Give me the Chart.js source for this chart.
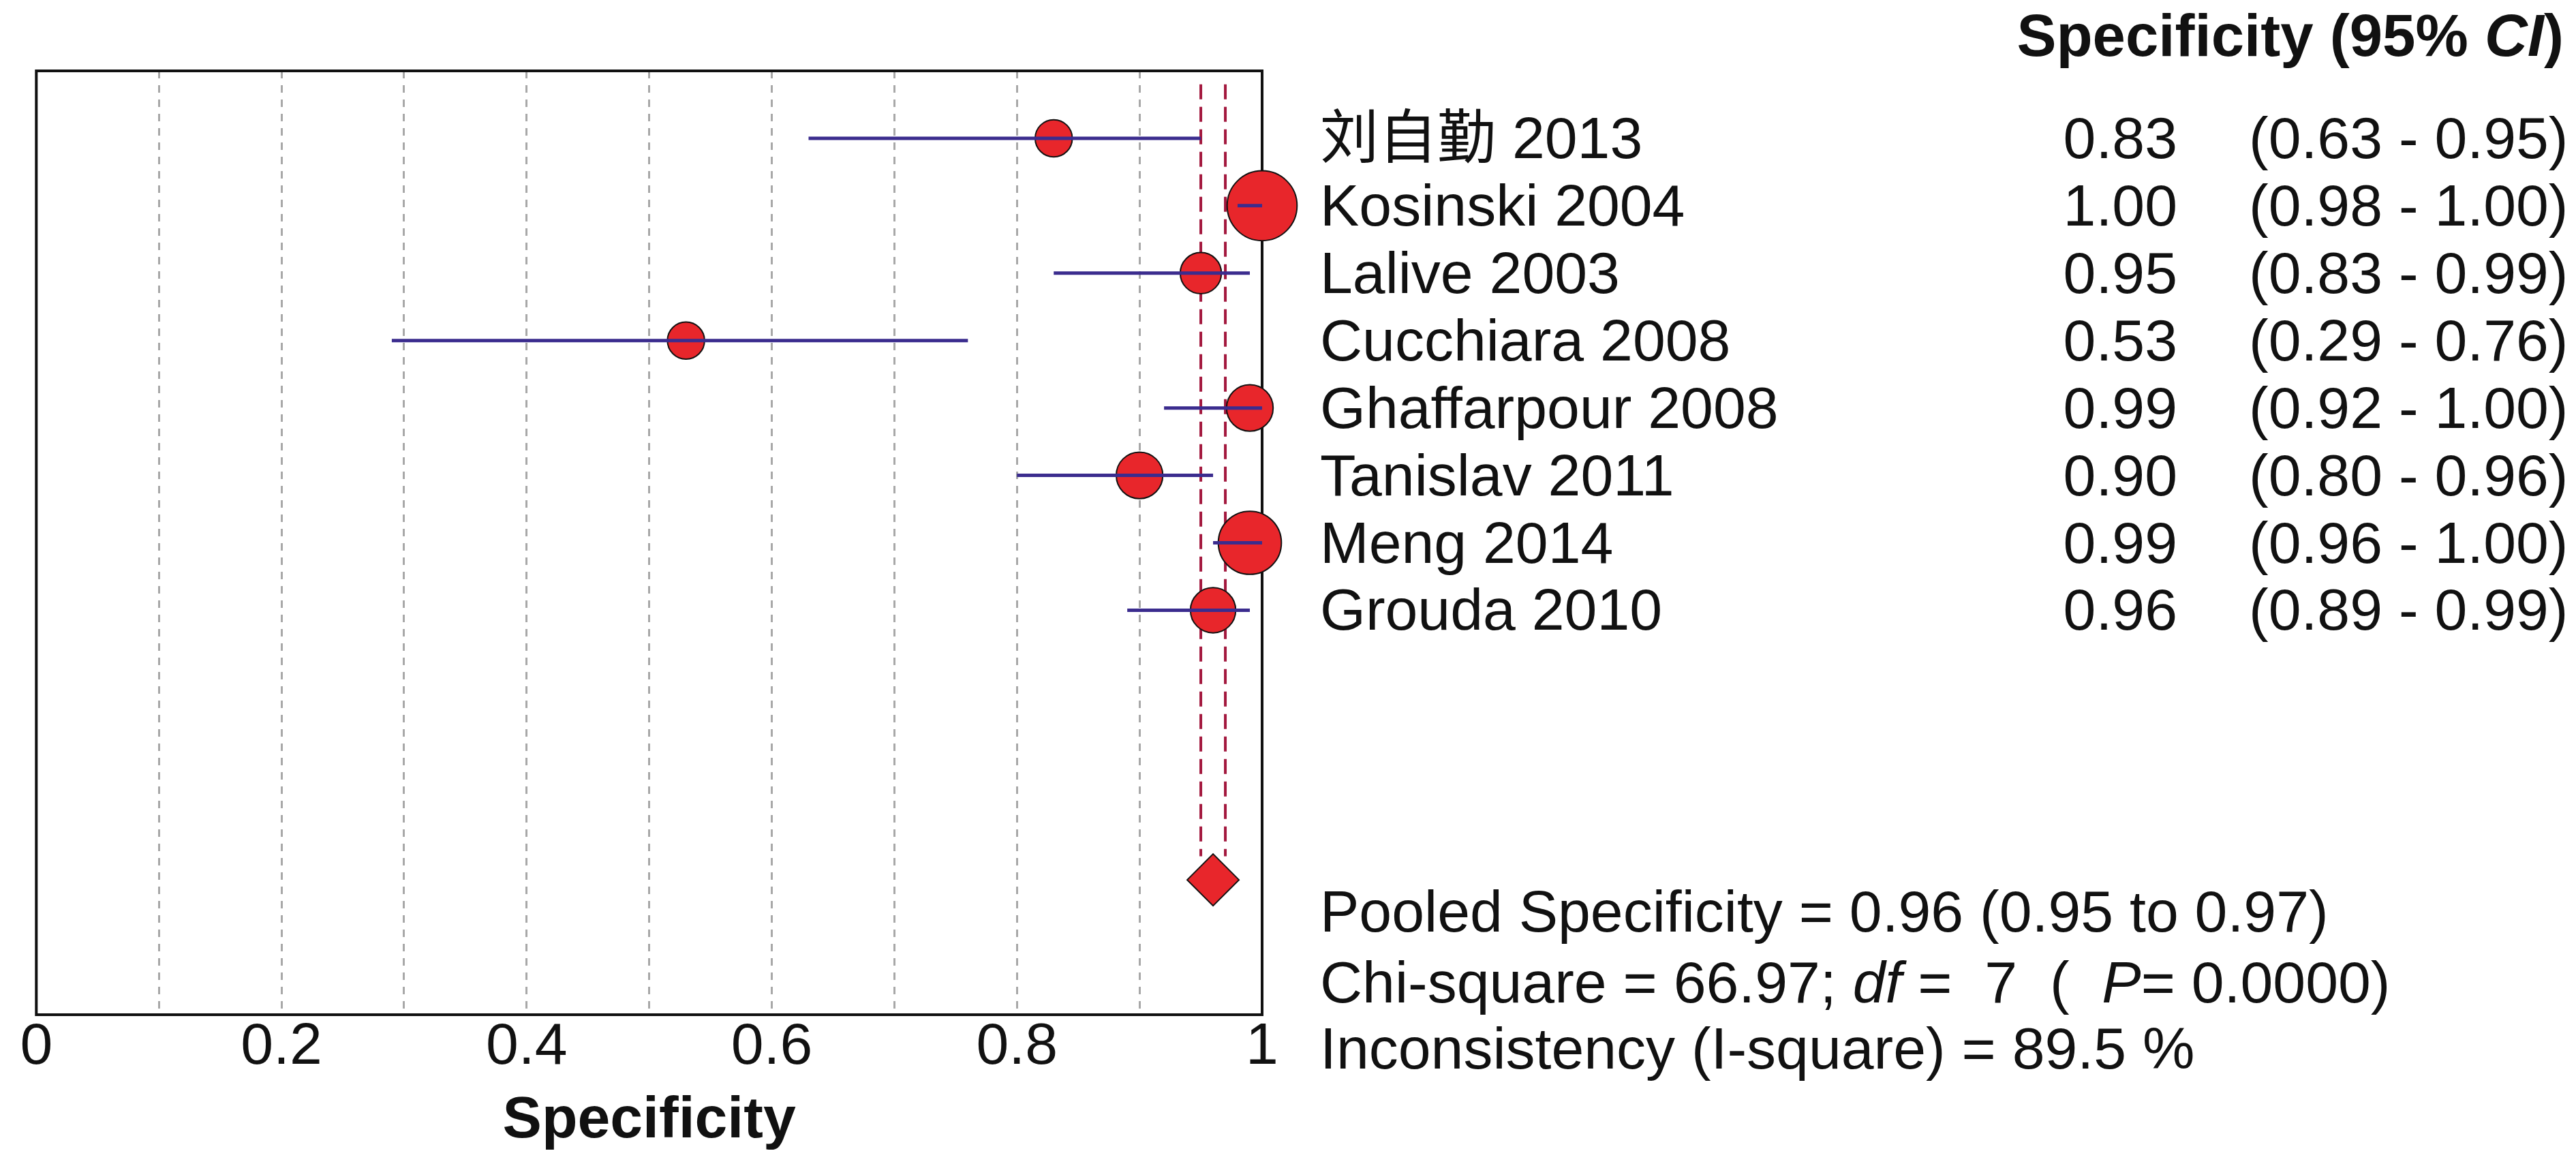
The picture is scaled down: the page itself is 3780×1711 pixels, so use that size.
<!DOCTYPE html>
<html>
<head>
<meta charset="utf-8">
<script src="https://cdn.jsdelivr.net/npm/chart.js@4.4.1/dist/chart.umd.min.js"></script>
<style>
  body { margin: 0; background: #fff; }
  canvas { display: block; }
</style>
</head>
<body>
<canvas id="forest" width="3780" height="1711"></canvas>
<script>
// Study data (specificity with 95% CI)
const studies = ['刘自勤 2013', 'Kosinski 2004', 'Lalive 2003', 'Cucchiara 2008',
                 'Ghaffarpour 2008', 'Tanislav 2011', 'Meng 2014', 'Grouda 2010'];
const spec  = [0.83, 1.00, 0.95, 0.53, 0.99, 0.90, 0.99, 0.96];
const lower = [0.63, 0.98, 0.83, 0.29, 0.92, 0.80, 0.96, 0.89];
const upper = [0.95, 1.00, 0.99, 0.76, 1.00, 0.96, 1.00, 0.99];
// relative study weights (%)
const weights = [7.0, 24.8, 8.6, 7.0, 11.0, 11.0, 20.2, 10.4];

// pooled estimate
const pooled = [0.96, 0.95, 0.97];   // estimate, lower, upper
const chiSquare = '66.97';
const df = '7';
const pValue = '0.0000';
const iSquare = '89.5';

const xTicks = [0, 0.2, 0.4, 0.6, 0.8, 1];

const FONT = "'Liberation Sans', Arial, 'Noto Sans CJK SC', sans-serif";
const RED = '#e8262b';
const NAVY = '#3b2c8e';
const POOL_ROW = 11;

// CI lines, one per study
const ciSets = studies.map((s, i) => ({
    data: [{ x: lower[i], y: i }, { x: upper[i], y: i }],
    showLine: true,
    borderColor: NAVY,
    borderWidth: 5,
    pointRadius: 0,
    clip: false,
    order: 1
}));

// pooled CI dashed lines
const poolLines = [pooled[1], pooled[2]].map(v => ({
    data: [{ x: v, y: -0.8 }, { x: v, y: POOL_ROW - 0.35 }],
    showLine: true,
    borderColor: '#a3183e',
    borderWidth: 4,
    borderDash: [22, 11],
    pointRadius: 0,
    order: 4
}));

// frame around the plot and text on the right
const forestText = {
    id: 'forestText',
    beforeDatasetsDraw(chart) {
        const { ctx, chartArea: a } = chart;
        ctx.save();
        ctx.strokeStyle = '#111';
        ctx.lineWidth = 4;
        ctx.strokeRect(a.left, a.top, a.right - a.left, a.bottom - a.top);
        ctx.restore();
    },
    afterDraw(chart) {
        const { ctx } = chart;
        const y = chart.scales.y;
        const nameX = 1937, valX = 3195, ciX = 3300, headRight = 3762;
        ctx.save();
        ctx.fillStyle = '#111';
        ctx.textBaseline = 'alphabetic';

        // header
        runs(ctx, [
            ['Specificity (95% ', 'bold 87px ' + FONT],
            ['CI', 'italic bold 87px ' + FONT],
            [')', 'bold 87px ' + FONT]
        ], headRight, 82, 'right');

        ctx.font = '86px ' + FONT;
        studies.forEach((s, i) => {
            const py = y.getPixelForValue(i) + 29;
            ctx.textAlign = 'left';
            ctx.fillText(s, nameX, py);
            ctx.textAlign = 'right';
            ctx.fillText(spec[i].toFixed(2), valX, py);
            ctx.textAlign = 'left';
            ctx.fillText('(' + lower[i].toFixed(2) + ' - ' + upper[i].toFixed(2) + ')', ciX, py);
        });

        const f = '86px ' + FONT, fi = 'italic 86px ' + FONT;
        runs(ctx, [['Pooled Specificity = ' + pooled[0].toFixed(2) + ' (' + pooled[1].toFixed(2) +
                    ' to ' + pooled[2].toFixed(2) + ')', f]], nameX, y.getPixelForValue(11.45) + 31, 'left');
        runs(ctx, [['Chi-square = ' + chiSquare + '; ', f], ['df', fi], [' =  ' + df + '  (  ', f],
                   ['P', fi], ['= ' + pValue + ')', f]], nameX, y.getPixelForValue(12.5) + 31, 'left');
        runs(ctx, [['Inconsistency (I-square) = ' + iSquare + ' %', f]], nameX, y.getPixelForValue(13.49) + 31, 'left');
        ctx.restore();
    }
};

function runs(ctx, parts, x, y, align) {
    let total = 0;
    parts.forEach(p => { ctx.font = p[1]; total += ctx.measureText(p[0]).width; });
    let cx = align === 'right' ? x - total : x;
    ctx.textAlign = 'left';
    parts.forEach(p => {
        ctx.font = p[1];
        ctx.fillText(p[0], cx, y);
        cx += ctx.measureText(p[0]).width;
    });
}

new Chart(document.getElementById('forest'), {
    type: 'scatter',
    data: {
        datasets: [
            ...ciSets,
            {
                data: spec.map((v, i) => ({ x: v, y: i })),
                pointRadius: weights.map(w => Math.sqrt(w) * 10.3),
                pointBackgroundColor: RED,
                pointBorderColor: '#111',
                pointBorderWidth: 2,
                clip: false,
                order: 2
            },
            {
                data: [{ x: pooled[0], y: POOL_ROW }],
                pointStyle: 'rectRot',
                pointRadius: 38,
                pointBackgroundColor: RED,
                pointBorderColor: '#111',
                pointBorderWidth: 2,
                clip: false,
                order: 2
            },
            ...poolLines
        ]
    },
    options: {
        responsive: false,
        animation: false,
        devicePixelRatio: 1,
        layout: { padding: { left: 52, right: 1928, top: 104, bottom: 0 } },
        plugins: { legend: { display: false }, tooltip: { enabled: false } },
        scales: {
            x: {
                type: 'linear',
                min: 0,
                max: 1,
                afterFit: s => { s.height = 222; },
                afterBuildTicks: s => {
                    // gridlines every 0.1, labels only at xTicks
                    s.ticks = Array.from({ length: 11 }, (_, k) => ({ value: k / 10 }));
                },
                ticks: {
                    autoSkip: false,
                    maxRotation: 0,
                    padding: 5,
                    color: '#111',
                    font: { family: FONT, size: 86, lineHeight: 1 },
                    callback: v => xTicks.some(t => Math.abs(t - v) < 1e-6) ? String(+v.toFixed(1)) : ''
                },
                grid: {
                    drawTicks: false,
                    lineWidth: 3,
                    color: c => (c.tick && (c.tick.value < 0.01 || c.tick.value > 0.99)) ? 'rgba(0,0,0,0)' : '#a8a8a8'
                },
                border: { display: false, dash: [11, 10] },
                title: {
                    display: true,
                    text: 'Specificity',
                    color: '#111',
                    font: { family: FONT, size: 86, weight: 'bold', lineHeight: 1 },
                    padding: { top: 0, bottom: 23 }
                }
            },
            y: {
                type: 'linear',
                display: false,
                min: -1,
                max: 13,
                reverse: true
            }
        }
    },
    plugins: [forestText]
});
</script>
</body>
</html>
